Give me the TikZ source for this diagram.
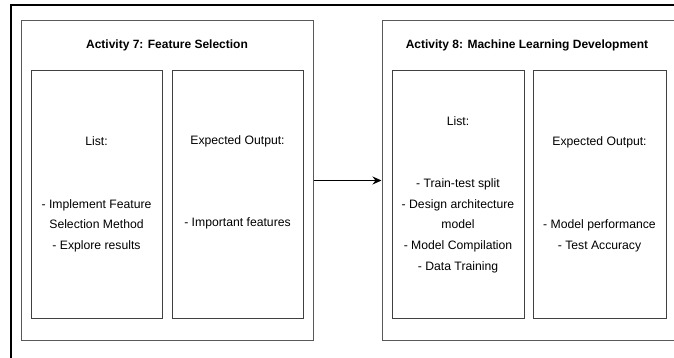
\documentclass[tikz,border=0pt]{standalone}
\usepackage{fontspec}
\setmainfont{Liberation Sans}
\usetikzlibrary{arrows.meta}

\begin{document}
\begin{tikzpicture}[x=1pt,y=-1pt,
  activity/.style={draw=black!65, line width=1pt, inner sep=0pt},
  column/.style={draw=black!75, line width=1pt, inner sep=0pt,
    minimum height=247pt, align=center, font=\fontsize{12.2}{20.7}\selectfont},
  heading/.style={font=\fontsize{12}{15}\selectfont\bfseries}]
\useasboundingbox (0,0) rectangle (674,358);
\clip (0,0) rectangle (674,358);
\draw [black, line width=2pt] (11,5) rectangle (700,400);
% Activity 7
\node [activity, minimum width=292pt, minimum height=319pt] (act7) at (167,180.5) {};
\node [heading] (title7) at (167,45) {Activity 7: Feature Selection};
\node [column, minimum width=131pt] (list7) at (96.5,194.5)
  {List:\\ \\ \\ - Implement Feature\\ Selection Method\\ - Explore results};
\node [column, minimum width=131pt] (out7) at (237.5,194.5)
  {Expected Output:\\ \\ \\ \\ - Important features\\ \strut};
% Activity 8
\node [activity, minimum width=294pt, minimum height=319pt] (act8) at (529,180.5) {};
\node [heading] (title8) at (527,45) {Activity 8: Machine Learning Development};
\node [column, minimum width=132pt] (list8) at (458,194.5)
  {List:\\ \\ \\ - Train-test split\\ - Design architecture\\ model\\ - Model Compilation\\ - Data Training};
\node [column, minimum width=133pt] (out8) at (599.5,194.5)
  {Expected Output:\\ \\ \\ \\ - Model performance\\ - Test Accuracy};
% link
\draw [black, line width=1.2pt, -{Stealth[length=9pt,width=8pt]}] (act7.east) -- (act8.west);
\end{tikzpicture}
\end{document}
